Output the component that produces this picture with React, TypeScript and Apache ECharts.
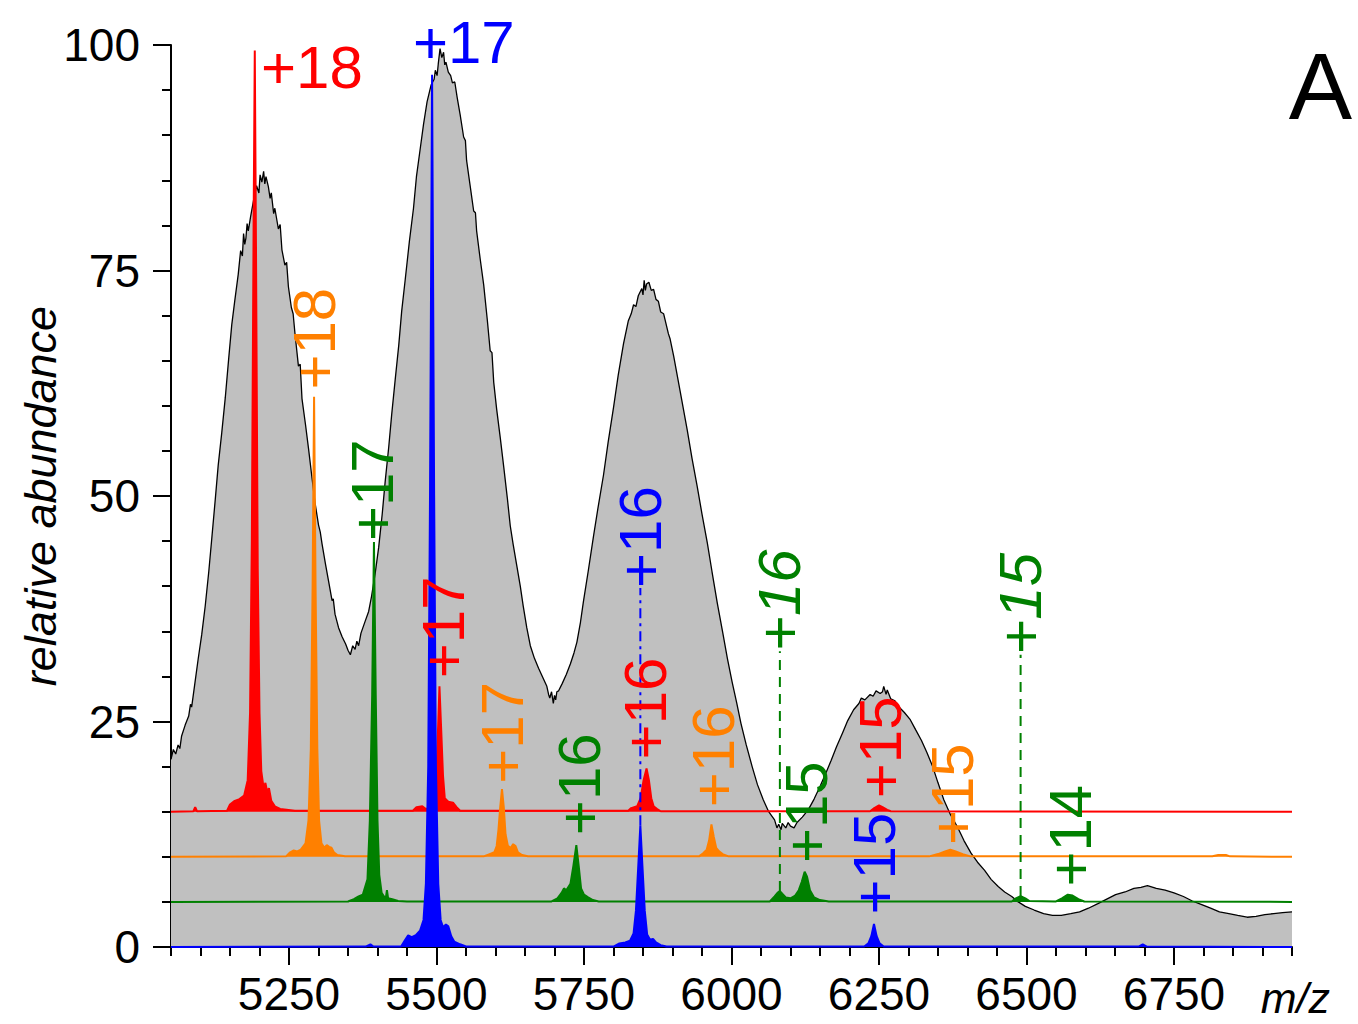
import React, { useEffect, useRef } from "react";
import * as echarts from "echarts";

// ---------- axis ranges / ticks ----------
const X_MIN = 5050;
const X_MAX = 6950;
const Y_MIN = 0;
const Y_MAX = 100;
const xMajorTicks = [5250, 5500, 5750, 6000, 6250, 6500, 6750];
const yMajorTicks = [0, 25, 50, 75, 100];

// ---------- colours ----------
const RED = "#ff0000";
const ORANGE = "#ff8000";
const GREEN = "#008000";
const BLUE = "#0000ff";
const GREY = "#c0c0c0";

// ---------- baselines (offsets of the stacked traces) ----------
const redOffset = 15;
const orangeOffset = 10;
const greenOffset = 5;
const blueOffset = 0;

// ---------- grey envelope (native spectrum) ----------
const envelope: [number, number][] = [
  [5050, 20.8], [5054, 21.9], [5058, 21.4], [5062, 22.4], [5065, 22.0], [5068, 23.4], [5074, 24.6], [5080, 25.6],
  [5083, 26.9], [5085, 26.6], [5090, 29.0], [5096, 31.9], [5102, 34.6], [5108, 37.8], [5114, 41.6], [5119, 45.2],
  [5125, 49.6], [5130, 53.4], [5136, 57.0], [5142, 60.9], [5148, 65.4], [5153, 69.0], [5158, 71.6],
  [5164, 74.6], [5168, 77.2], [5171, 76.6], [5173, 79.1], [5175, 77.9], [5177, 78.6], [5179, 80.2], [5181, 79.4], [5185, 81.0], [5190, 82.8],
  [5195, 84.4], [5199, 83.6], [5201, 85.6], [5204, 84.8], [5207, 86.0], [5209, 84.6], [5211, 85.4], [5215, 84.3],
  [5218, 83.0], [5220, 83.6], [5224, 81.3], [5226, 81.9], [5232, 79.6], [5235, 80.1], [5238, 77.3], [5243, 75.6], [5246, 75.9], [5249, 73.2], [5254, 70.9],
  [5257, 70.2], [5260, 68.1], [5266, 64.4], [5269, 64.6], [5272, 60.8], [5278, 57.9], [5283, 55.3], [5289, 52.0], [5294, 49.3],
  [5300, 46.8], [5303, 46.0], [5306, 44.7], [5312, 42.4], [5317, 40.6], [5323, 38.4], [5325, 38.6], [5328, 36.9], [5334, 35.4],
  [5340, 34.4], [5346, 33.6], [5350, 32.9], [5354, 32.4], [5358, 33.4], [5362, 33.0], [5365, 33.9], [5368, 33.4],
  [5372, 34.8], [5379, 36.1], [5385, 37.2], [5390, 38.9], [5396, 41.4], [5402, 44.3], [5408, 48.0],
  [5413, 51.6], [5419, 55.4], [5424, 59.0], [5430, 62.9], [5436, 66.7], [5441, 70.5], [5447, 74.0],
  [5454, 78.2], [5461, 81.9], [5466, 85.4], [5472, 88.3], [5478, 91.2], [5484, 93.7], [5491, 95.6],
  [5496, 96.2], [5498, 97.2], [5501, 96.6], [5503, 97.9], [5506, 99.6], [5509, 98.6], [5512, 99.2], [5514, 97.8], [5516, 98.1], [5520, 97.0],
  [5524, 96.6], [5527, 95.8], [5531, 95.9], [5535, 94.2], [5540, 92.3], [5546, 89.8], [5549, 89.4], [5551, 87.2], [5557, 84.4], [5563, 81.6],
  [5566, 81.4], [5568, 79.4], [5574, 76.3], [5580, 73.4], [5586, 69.6], [5591, 66.1], [5594, 65.9], [5597, 62.6], [5602, 59.6],
  [5608, 56.5], [5614, 53.2], [5620, 49.8], [5625, 46.7], [5630, 44.6], [5636, 42.3], [5642, 40.0],
  [5647, 37.8], [5653, 35.4], [5659, 33.4], [5666, 32.0], [5673, 30.9], [5680, 29.9], [5687, 28.9],
  [5690, 28.0], [5692, 27.6], [5695, 28.3], [5698, 27.0], [5700, 27.9], [5702, 27.4], [5704, 28.3], [5707, 28.4], [5713, 29.2], [5720, 30.2],
  [5727, 31.4], [5733, 32.6], [5738, 33.8], [5744, 36.0], [5749, 38.3], [5757, 41.6], [5766, 45.5],
  [5774, 48.8], [5783, 52.3], [5791, 56.0], [5800, 59.8], [5808, 63.4], [5817, 66.9], [5825, 69.4],
  [5830, 70.2], [5834, 71.2], [5838, 71.0], [5842, 72.2], [5848, 73.0], [5850, 72.3], [5852, 73.9], [5854, 72.8], [5856, 73.5], [5860, 73.7], [5864, 72.8],
  [5868, 72.9], [5872, 71.8], [5876, 71.6], [5880, 70.4], [5885, 70.2], [5893, 68.0], [5896, 67.4], [5902, 65.5], [5913, 61.6], [5925, 57.3],
  [5933, 54.2], [5942, 51.0], [5950, 48.0], [5959, 44.8], [5967, 41.6], [5976, 38.1], [5985, 34.9],
  [5993, 32.0], [6001, 29.4], [6009, 27.0], [6016, 24.8], [6025, 22.4], [6035, 20.0], [6044, 18.0],
  [6054, 16.3], [6063, 15.0], [6073, 14.1], [6077, 13.2], [6080, 13.6], [6084, 13.0], [6086, 13.7], [6092, 13.2], [6096, 13.8], [6100, 13.4],
  [6106, 13.2], [6111, 13.8], [6120, 14.4], [6130, 15.2], [6140, 16.4], [6150, 17.8], [6160, 19.3],
  [6169, 20.7], [6178, 22.2], [6188, 23.7], [6197, 25.1], [6207, 26.3], [6216, 27.0], [6220, 27.6], [6226, 27.4],
  [6235, 28.0], [6240, 27.8], [6245, 28.4], [6252, 28.1], [6256, 28.3], [6258, 28.9], [6262, 28.0], [6264, 28.5], [6270, 27.5], [6277, 27.3],
  [6284, 26.6], [6293, 26.0], [6303, 25.2], [6312, 24.1], [6322, 22.9], [6331, 21.6], [6341, 20.0],
  [6350, 18.2], [6360, 16.3], [6371, 14.7], [6383, 13.3], [6394, 11.8], [6406, 10.4], [6417, 9.4],
  [6429, 8.5], [6440, 7.5], [6452, 6.7], [6463, 6.1], [6475, 5.6], [6486, 5.0], [6498, 4.5],
  [6513, 4.1], [6529, 3.7], [6544, 3.5], [6559, 3.5], [6575, 3.7], [6590, 3.9], [6605, 4.3],
  [6621, 4.8], [6636, 5.3], [6651, 5.8], [6667, 6.1], [6682, 6.5], [6694, 6.6], [6705, 6.8],
  [6720, 6.5], [6735, 6.3], [6750, 6.0], [6766, 5.6], [6781, 5.1], [6797, 4.7], [6812, 4.3],
  [6827, 3.9], [6843, 3.7], [6858, 3.5], [6874, 3.3], [6889, 3.4], [6904, 3.6], [6919, 3.7],
  [6934, 3.8], [6950, 3.9],
];

// ---------- coloured traces (each drawn on its own offset baseline) ----------
const redTrace: [number, number][] = [
  [5050, 15], [5088, 15.05], [5091, 15.5], [5094, 15.05], [5145, 15.1], [5150, 15.8], [5158, 16.2],
  [5166, 16.4], [5174, 16.8], [5180, 18.5], [5184, 26], [5187, 45], [5190, 80], [5192, 99.4],
  [5194, 78], [5197, 42], [5200, 26], [5203, 19.5], [5207, 17.6], [5210, 18.2], [5213, 17.2],
  [5216, 17.6], [5220, 16.2], [5226, 15.6], [5235, 15.3], [5260, 15.1], [5460, 15.1], [5466, 15.5],
  [5476, 15.6], [5482, 15.3], [5494, 15.5], [5499, 17.5], [5502, 23], [5505, 28.9], [5508, 24],
  [5511, 19], [5514, 16.5], [5520, 16.1], [5528, 16.0], [5534, 15.5], [5540, 15.1], [5825, 15.1],
  [5830, 15.4], [5840, 15.6], [5846, 16.5], [5851, 18.5], [5856, 19.8], [5860, 18.5], [5864, 16.5],
  [5868, 15.6], [5874, 15.3], [5880, 15.05], [6235, 15.05], [6242, 15.4], [6250, 15.7], [6256, 15.5],
  [6264, 15.2], [6270, 15.05], [6950, 15],
];

const orangeTrace: [number, number][] = [
  [5050, 10], [5245, 10.05], [5252, 10.5], [5258, 10.7], [5264, 10.6], [5270, 10.8], [5278, 11.5],
  [5283, 14], [5287, 22], [5290, 40], [5292.5, 61], [5295, 40], [5298, 22], [5301, 14], [5305, 11.5],
  [5310, 11], [5314, 11.3], [5318, 11.1], [5322, 11.0], [5326, 10.5], [5332, 10.2], [5345, 10.05],
  [5580, 10.05], [5590, 10.3], [5598, 10.5], [5602, 11.2], [5605, 13], [5608, 15.5], [5611, 17.5],
  [5614, 15.5], [5617, 12.5], [5621, 11.2], [5626, 11.0], [5630, 11.4], [5634, 11.2], [5638, 10.5],
  [5645, 10.2], [5655, 10.05], [5945, 10.05], [5952, 10.4], [5958, 10.8], [5962, 11.8], [5966, 13.6],
  [5970, 12.2], [5974, 11], [5979, 10.6], [5985, 10.3], [5995, 10.05], [6335, 10.05], [6350, 10.3],
  [6362, 10.6], [6371, 10.8], [6380, 10.6], [6392, 10.3], [6405, 10.05], [6815, 10.05], [6825, 10.2],
  [6838, 10.2], [6845, 10.05], [6950, 10],
];

const greenTrace: [number, number][] = [
  [5050, 5], [5350, 5.05], [5360, 5.3], [5368, 5.6], [5375, 5.8], [5383, 7.5], [5387, 14],
  [5391, 28], [5394, 44.9], [5397, 28], [5400, 14], [5403, 8], [5407, 6], [5411, 5.6], [5414, 5.4],
  [5416, 6.3], [5418, 5.4], [5425, 5.3], [5435, 5.1], [5450, 5.05], [5695, 5.05], [5705, 5.4],
  [5712, 6.0], [5716, 6.5], [5720, 6.3], [5727, 7], [5732, 9], [5737, 11.3], [5741, 9],
  [5745, 6.5], [5750, 5.8], [5757, 5.5], [5765, 5.2], [5775, 5.05], [6065, 5.05], [6073, 5.6],
  [6078, 6.0], [6082, 6.2], [6086, 5.9], [6092, 5.5], [6100, 5.4], [6108, 5.7], [6114, 6.3],
  [6119, 7.2], [6124, 8.35], [6128, 7.8], [6133, 6.3], [6140, 5.5], [6150, 5.2], [6165, 5.05],
  [6475, 5.05], [6482, 5.4], [6490, 5.65], [6498, 5.4], [6505, 5.1], [6550, 5.05], [6560, 5.4],
  [6570, 5.8], [6578, 5.7], [6588, 5.3], [6598, 5.05], [6950, 5],
];

const blueTrace: [number, number][] = [
  [5050, 0], [5380, 0.05], [5388, 0.3], [5393, 0.05], [5440, 0.05], [5447, 0.8], [5452, 1.3],
  [5458, 1.1], [5465, 1.3], [5472, 1.8], [5478, 3], [5482, 7], [5486, 20], [5489, 50],
  [5492.5, 96.7], [5496, 50], [5499, 20], [5503, 7], [5507, 3], [5511, 2.2], [5516, 2.5],
  [5520, 2.3], [5525, 1.2], [5530, 0.6], [5540, 0.3], [5550, 0.05], [5800, 0.05], [5810, 0.4],
  [5820, 0.5], [5828, 0.7], [5834, 1.5], [5838, 4], [5842, 9], [5845.5, 13.5], [5849, 9],
  [5853, 4], [5857, 1.4], [5862, 0.8], [5867, 0.9], [5872, 0.5], [5880, 0.2], [5890, 0.05],
  [6225, 0.05], [6232, 0.4], [6237, 1.2], [6241.5, 2.55], [6246, 1.2], [6251, 0.4], [6258, 0.05],
  [6690, 0.05], [6697, 0.3], [6704, 0.05], [6950, 0],
];

// ---------- guide lines from peaks to their labels ----------
const blueGuide: [number, number][] = [[5845.5, 13.5], [5845.5, 39.8]];
const greenGuideA: [number, number][] = [[6082, 6.2], [6082, 32.8]];
const greenGuideB: [number, number][] = [[6490, 5.65], [6490, 32.4]];

// ---------- charge-state labels ----------
const labelTexts = ["+18", "+17", "+18", "+17", "+17", "+17", "+16", "+16", "+16", "+16", "+16", "+15", "+15", "+15", "+15", "+15", "+14"];
const labelX = [5202.6, 5460, 5294, 5392, 5512, 5611.7, 5742, 5845.5, 5854, 5969, 6080.7, 6126.7, 6252.6, 6243, 6374, 6490.3, 6574.6];
const labelY = [97.5, 100.3, 61.8, 45.0, 29.8, 18.1, 12.4, 39.8, 20.8, 15.5, 32.8, 9.3, 16.5, 3.6, 11.3, 32.4, 6.7];
const labelColors = [RED, BLUE, ORANGE, GREEN, RED, ORANGE, GREEN, BLUE, RED, ORANGE, GREEN, GREEN, RED, BLUE, ORANGE, GREEN, GREEN];
const labelVertical = [false, false, true, true, true, true, true, true, true, true, true, true, true, true, true, true, true];
const labelItalic = [false, false, false, false, false, false, false, false, false, false, true, false, false, false, false, true, false];

const FONT = '"Liberation Sans", Arial, Helvetica, sans-serif';

function traceSeries(name: string, data: [number, number][], color: string, offset: number, z: number) {
  return {
    name,
    type: "line",
    data,
    z,
    symbol: "none",
    showSymbol: false,
    smooth: false,
    xAxisIndex: 0,
    yAxisIndex: 0,
    lineStyle: { color, width: 2 },
    areaStyle: { color, opacity: 1, origin: offset },
    silent: true,
  };
}

function guideSeries(data: [number, number][], color: string, dash: number[]) {
  return {
    type: "line",
    data,
    z: 10,
    symbol: "none",
    showSymbol: false,
    xAxisIndex: 0,
    yAxisIndex: 0,
    lineStyle: { color, width: 2, type: dash },
    silent: true,
  };
}

export default function App() {
  const ref = useRef<HTMLDivElement>(null);

  useEffect(() => {
    if (!ref.current) return;
    const chart = echarts.init(ref.current, undefined, { renderer: "svg" });

    const tickStyle = { color: "#000", width: 2 };
    chart.setOption({
      animation: false,
      backgroundColor: "#ffffff",
      grid: { left: 171, right: 66, top: 45, bottom: 77, containLabel: false },
      xAxis: [
        {
          type: "value",
          min: X_MIN,
          max: X_MAX,
          interval: 50,
          position: "bottom",
          axisLine: { show: true, onZero: false, lineStyle: tickStyle },
          axisTick: { show: true, length: 9, lineStyle: tickStyle },
          axisLabel: { show: false },
          splitLine: { show: false },
        },
        {
          type: "value",
          min: X_MIN,
          max: X_MAX,
          interval: 50,
          position: "bottom",
          axisLine: { show: false, onZero: false },
          axisTick: { show: true, length: 18, lineStyle: tickStyle, customValues: xMajorTicks },
          axisLabel: {
            show: true,
            customValues: xMajorTicks,
            formatter: (v: number) => String(v),
            fontSize: 46,
            fontFamily: FONT,
            color: "#000",
            margin: 24,
          },
          splitLine: { show: false },
        },
      ],
      yAxis: [
        {
          type: "value",
          min: Y_MIN,
          max: Y_MAX,
          interval: 5,
          position: "left",
          axisLine: { show: true, onZero: false, lineStyle: tickStyle },
          axisTick: { show: true, length: 9, lineStyle: tickStyle },
          axisLabel: { show: false },
          splitLine: { show: false },
          name: "relative abundance",
          nameLocation: "middle",
          nameGap: 108,
          nameRotate: 90,
          nameTextStyle: { fontSize: 45, fontStyle: "italic", fontFamily: FONT, color: "#000" },
        },
        {
          type: "value",
          min: Y_MIN,
          max: Y_MAX,
          interval: 25,
          position: "left",
          axisLine: { show: false, onZero: false },
          axisTick: { show: true, length: 18, lineStyle: tickStyle, customValues: yMajorTicks },
          axisLabel: {
            show: true,
            customValues: yMajorTicks,
            formatter: (v: number) => String(v),
            fontSize: 46,
            fontFamily: FONT,
            color: "#000",
            margin: 31,
          },
          splitLine: { show: false },
        },
      ],
      series: [
        {
          name: "envelope",
          type: "line",
          data: envelope,
          z: 1,
          symbol: "none",
          showSymbol: false,
          xAxisIndex: 0,
          yAxisIndex: 0,
          lineStyle: { color: "#000", width: 1.3 },
          areaStyle: { color: GREY, opacity: 1, origin: "start" },
          silent: true,
        },
        traceSeries("red", redTrace, RED, redOffset, 2),
        traceSeries("orange", orangeTrace, ORANGE, orangeOffset, 3),
        traceSeries("green", greenTrace, GREEN, greenOffset, 4),
        traceSeries("blue", blueTrace, BLUE, blueOffset, 5),
        guideSeries(blueGuide, BLUE, [10, 5, 3, 5]),
        guideSeries(greenGuideA, GREEN, [10, 7]),
        guideSeries(greenGuideB, GREEN, [10, 7]),
      ],
    });

    const labels = labelTexts.map((text, i) => {
      const p = chart.convertToPixel({ xAxisIndex: 0, yAxisIndex: 0 }, [labelX[i], labelY[i]]) as number[];
      return {
        type: "text",
        x: p[0],
        y: p[1],
        rotation: labelVertical[i] ? Math.PI / 2 : 0,
        z: 100,
        silent: true,
        style: {
          text,
          fill: labelColors[i],
          font: `${labelItalic[i] ? "italic " : ""}60px ${FONT}`,
          align: "left",
          verticalAlign: "middle",
        },
      };
    });

    chart.setOption({
      graphic: [
        ...labels,
        {
          type: "text",
          x: 1352,
          y: 86,
          z: 100,
          silent: true,
          style: { text: "A", fill: "#000", font: `95px ${FONT}`, align: "right", verticalAlign: "middle" },
        },
        {
          type: "text",
          x: 1330,
          y: 998,
          z: 100,
          silent: true,
          style: { text: "m/z", fill: "#000", font: `italic 43px ${FONT}`, align: "right", verticalAlign: "middle" },
        },
      ],
    });

    return () => {
      chart.dispose();
    };
  }, []);

  return (
    <div
      ref={ref}
      style={{ position: "fixed", left: 0, top: 0, width: 1358, height: 1024, background: "#fff" }}
    />
  );
}
